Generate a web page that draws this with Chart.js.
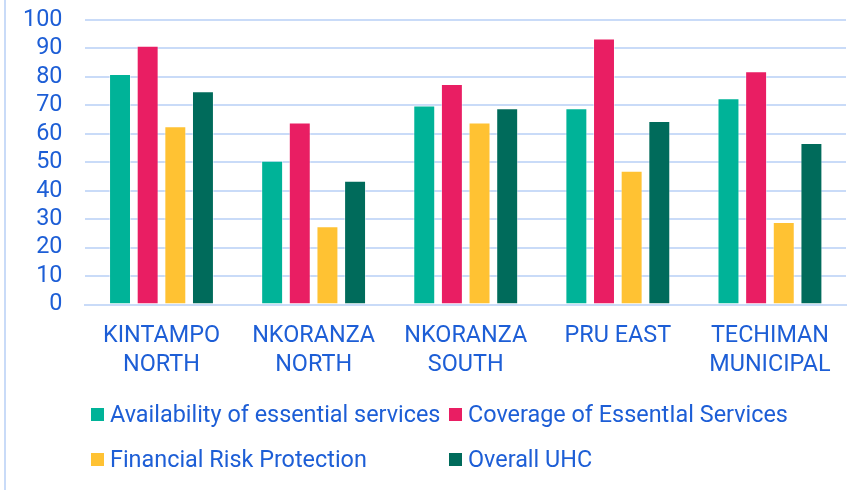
<!DOCTYPE html>
<html>
<head>
<meta charset="utf-8">
<script src="https://cdn.jsdelivr.net/npm/chart.js@4.4.1/dist/chart.umd.min.js"></script>
<style>
  html, body { margin: 0; padding: 0; background: #fff; }
  #wrap { position: relative; width: 866px; height: 490px; overflow: hidden; }
  #myChart { position: absolute; left: 0; top: -17px; }
  #edge { position: absolute; left: 4px; top: 0; width: 2px; height: 490px; background: #c9dbf8; }
  #legend { position: absolute; left: 91px; top: 400px; display: grid;
            grid-template-columns: 358px 360px; row-gap: 17px;
            font-family: Roboto, sans-serif; font-size: 23.4px; color: #1d5ed6; }
  #legend div { display: flex; align-items: center; height: 28px; white-space: nowrap; }
  #legend span.box { display: inline-block; width: 13px; height: 13px; margin-right: 6px; }
</style>
</head>
<body>
<div id="wrap">
  <div id="edge"></div>
  <canvas id="myChart" width="866" height="507"></canvas>
  <div id="legend"></div>
</div>
<script>
const categories = [['KINTAMPO', 'NORTH'], ['NKORANZA', 'NORTH'], ['NKORANZA', 'SOUTH'], 'PRU EAST', ['TECHIMAN', 'MUNICIPAL']];
const seriesNames = ['Availability of essential services', 'Coverage of EssentIal Services', 'Financial Risk Protection', 'Overall UHC'];
const availability = [81, 50.5, 70, 69, 72.5];
const coverage = [91, 64, 77.5, 93.5, 82];
const financialRisk = [62.7, 27.5, 64, 47, 29];
const overallUhc = [75, 43.5, 69, 64.5, 56.8];
const colors = ['#00b398', '#e91e63', '#ffc233', '#006b5b'];

const textColor = '#1d5ed6';
const gridColor = '#c9dbf8';

const ctx = document.getElementById('myChart').getContext('2d');
const allSeries = [availability, coverage, financialRisk, overallUhc];

new Chart(ctx, {
    type: 'bar',
    data: {
        labels: categories,
        datasets: allSeries.map((vals, i) => ({
            label: seriesNames[i],
            data: vals,
            backgroundColor: colors[i],
            borderColor: 'rgba(255,255,255,0.45)',
            borderWidth: 1,
            categoryPercentage: 0.727,
            barPercentage: 0.794
        }))
    },
    options: {
        responsive: false,
        animation: false,
        devicePixelRatio: 1,
        layout: { padding: { left: 0, right: 20, top: -12, bottom: 101 } },
        scales: {
            x: {
                grid: { display: false },
                border: { display: true, color: gridColor, width: 2 },
                ticks: {
                    color: textColor,
                    font: { family: 'Roboto', size: 23.4, lineHeight: 1.25 },
                    padding: 9,
                    maxRotation: 0,
                    autoSkip: false
                }
            },
            y: {
                min: 0,
                max: 100,
                grid: { color: gridColor, lineWidth: 2, drawTicks: false },
                border: { display: false },
                ticks: {
                    stepSize: 10,
                    autoSkip: false,
                    color: textColor,
                    font: { family: 'Roboto', size: 23.4 },
                    padding: 23
                }
            }
        },
        plugins: {
            legend: { display: false },
            tooltip: { enabled: false }
        }
    }
});

// legend laid out in two fixed columns like the original
const legendEl = document.getElementById('legend');
seriesNames.forEach((name, i) => {
    const item = document.createElement('div');
    item.innerHTML = '<span class="box" style="background:' + colors[i] + '"></span>' + name;
    legendEl.appendChild(item);
});
</script>
</body>
</html>
